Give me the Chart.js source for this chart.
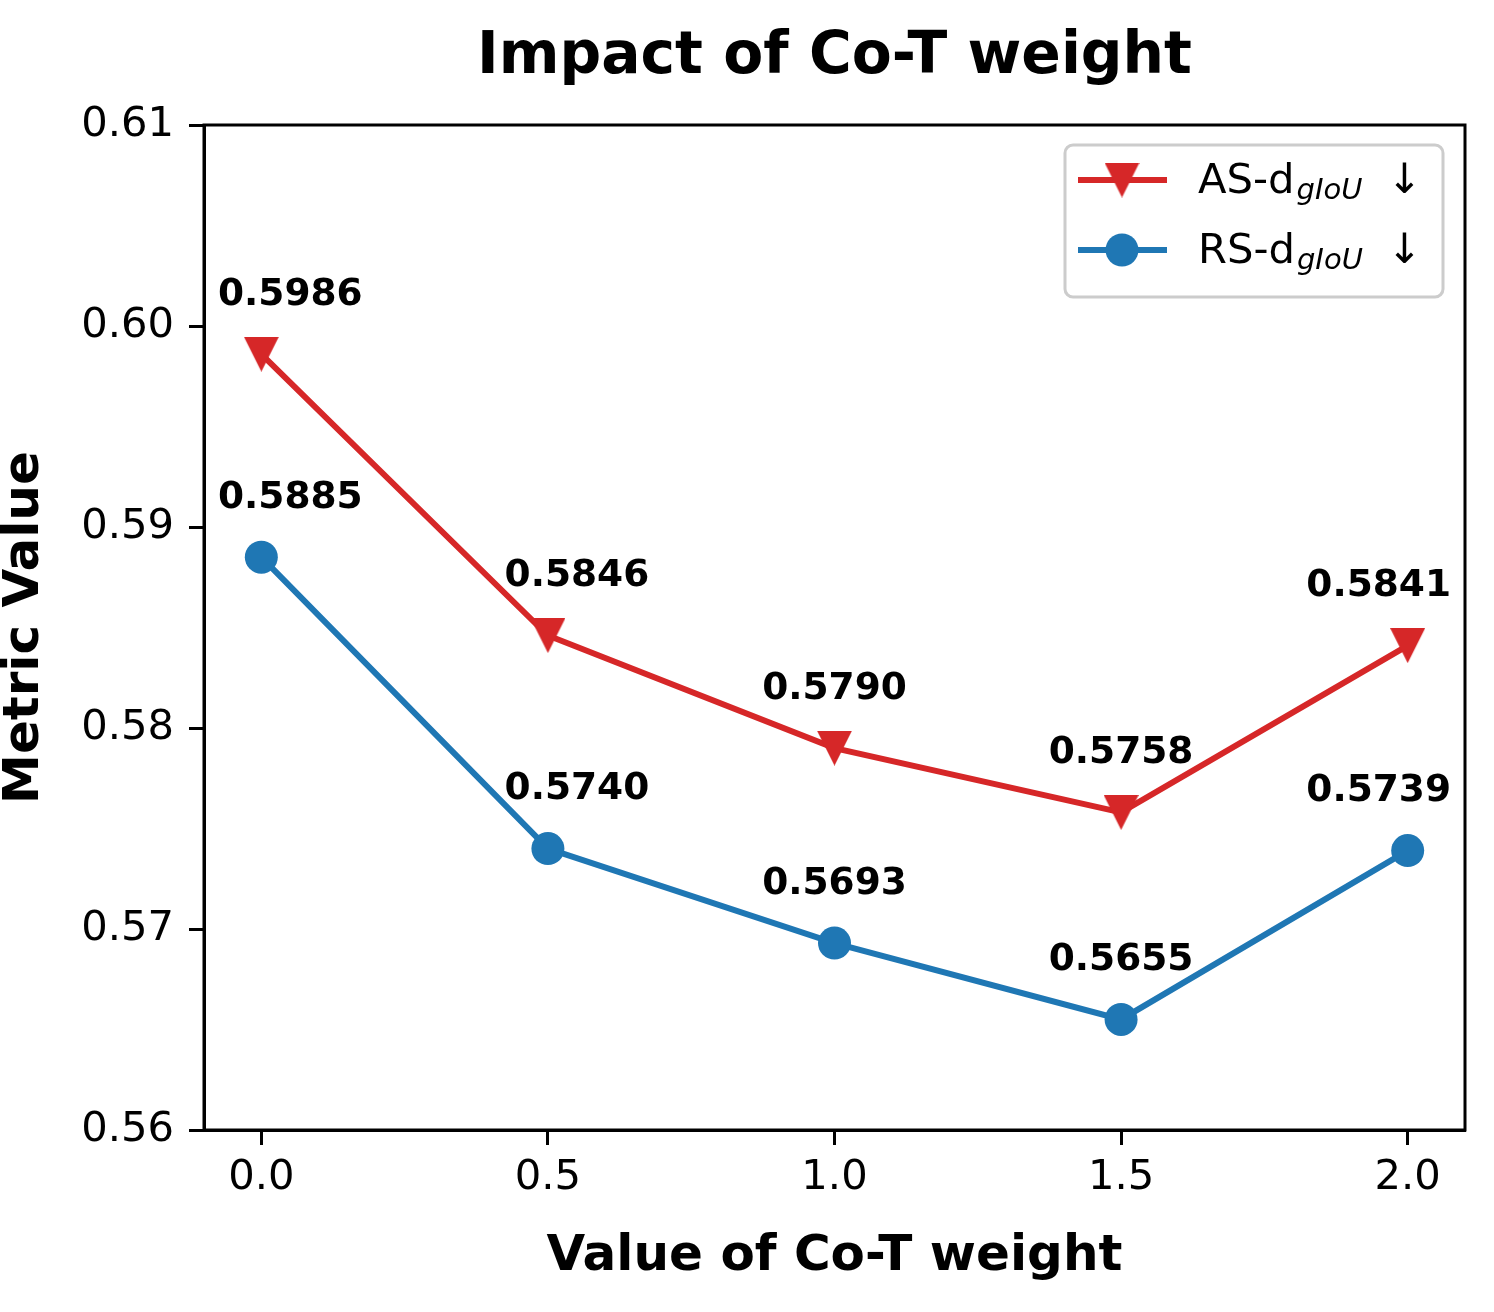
<!DOCTYPE html>
<html>
<head>
<meta charset="utf-8">
<script src="https://cdn.jsdelivr.net/npm/chart.js@4/dist/chart.umd.min.js"></script>
<style>
  body { margin: 0; background: #fff; }
  #wrap { width: 1494px; height: 1312px; }
</style>
</head>
<body>
<div id="wrap"><canvas id="chart" width="1494" height="1312"></canvas></div>
<script>
// --- Data ---
const weights = [0.0, 0.5, 1.0, 1.5, 2.0];
const asValues = [0.5986, 0.5846, 0.5790, 0.5758, 0.5841];
const rsValues = [0.5885, 0.5740, 0.5693, 0.5655, 0.5739];
const xTicks = [0.0, 0.5, 1.0, 1.5, 2.0];
const yTicks = [0.56, 0.57, 0.58, 0.59, 0.60, 0.61];

const RED = "#d62728";
const BLUE = "#1f77b4";
const FONT = "'DejaVu Sans', sans-serif";

const toPoints = (vals) => weights.map((w, i) => ({ x: w, y: vals[i] }));

// downward triangle marker, centred on its bounding box like matplotlib's "v"
function makeTriangle(size, color) {
  const c = document.createElement("canvas");
  c.width = size; c.height = size;
  const g = c.getContext("2d");
  g.fillStyle = color;
  g.beginPath();
  g.moveTo(0, 0);
  g.lineTo(size, 0);
  g.lineTo(size / 2, size);
  g.closePath();
  g.fill();
  return c;
}
const redTriangle = makeTriangle(35, RED);

// --- Plugins ---
const frame = {
  id: "frame",
  afterDraw(chart) {
    const { ctx, chartArea: a } = chart;
    ctx.save();
    ctx.strokeStyle = "#000";
    ctx.lineWidth = 3;
    ctx.strokeRect(a.left, a.top, a.right - a.left, a.bottom - a.top);
    ctx.restore();
  }
};

const titleText = {
  id: "titleText",
  afterDraw(chart) {
    const { ctx, chartArea: a } = chart;
    ctx.save();
    ctx.fillStyle = "#000";
    ctx.font = `bold 58.3px ${FONT}`;
    ctx.textAlign = "center";
    ctx.textBaseline = "alphabetic";
    ctx.fillText("Impact of Co-T weight", (a.left + a.right) / 2, 73);
    ctx.restore();
  }
};

// label offsets (px) relative to each point, as placed in the original
const labelDx = [29, 29, 0, 0, -29];

const valueLabels = {
  id: "valueLabels",
  afterDatasetsDraw(chart) {
    const { ctx } = chart;
    ctx.save();
    ctx.fillStyle = "#000";
    ctx.font = `bold 37.5px ${FONT}`;
    ctx.textAlign = "center";
    ctx.textBaseline = "middle";
    chart.data.datasets.forEach((ds, di) => {
      chart.getDatasetMeta(di).data.forEach((pt, i) => {
        ctx.fillText(ds.data[i].y.toFixed(4), pt.x + labelDx[i], pt.y - 59);
      });
    });
    ctx.restore();
  }
};

const legendBox = {
  id: "legendBox",
  afterDraw(chart) {
    const { ctx } = chart;
    ctx.save();
    ctx.beginPath();
    ctx.roundRect(1065, 145, 378, 152, 8);
    ctx.fillStyle = "rgba(255,255,255,0.8)";
    ctx.fill();
    ctx.strokeStyle = "#cccccc";
    ctx.lineWidth = 3;
    ctx.stroke();

    const rows = [
      { y: 180, color: RED, style: redTriangle, r: 17.5, name: "AS-d" },
      { y: 250, color: BLUE, style: "circle", r: 16.5, name: "RS-d" }
    ];
    rows.forEach(row => {
      ctx.strokeStyle = row.color;
      ctx.lineWidth = 6;
      ctx.beginPath();
      ctx.moveTo(1078, row.y);
      ctx.lineTo(1167, row.y);
      ctx.stroke();
      ctx.fillStyle = row.color;
      Chart.helpers.drawPoint(ctx, { pointStyle: row.style, rotation: 0, radius: row.r, borderWidth: 0 }, 1122, row.y);

      ctx.fillStyle = "#000";
      ctx.textAlign = "left";
      ctx.textBaseline = "alphabetic";
      ctx.font = `41.7px ${FONT}`;
      const base = row.y + 13;
      ctx.fillText(row.name, 1198, base);
      const w = ctx.measureText(row.name).width;
      ctx.font = `italic 29px ${FONT}`;
      ctx.fillText("gIoU", 1198 + w + 2, base + 6);
      ctx.font = `41.7px ${FONT}`;
      ctx.fillText("\u2193", 1387, base);
    });
    ctx.restore();
  }
};

// --- Chart ---
new Chart(document.getElementById("chart"), {
  type: "line",
  data: {
    datasets: [
      {
        label: "AS-dgIoU ↓",
        data: toPoints(asValues),
        borderColor: RED,
        backgroundColor: RED,
        borderWidth: 6,
        pointStyle: redTriangle,
        pointRadius: 17.5,
        pointBorderWidth: 0,
        pointHoverRadius: 17.5
      },
      {
        label: "RS-dgIoU ↓",
        data: toPoints(rsValues),
        borderColor: BLUE,
        backgroundColor: BLUE,
        borderWidth: 6,
        pointStyle: "circle",
        pointRadius: 16.5,
        pointBorderWidth: 0,
        pointHoverRadius: 16.5
      }
    ]
  },
  options: {
    responsive: false,
    animation: false,
    devicePixelRatio: 1,
    layout: { padding: { left: 0, right: 29, top: 125, bottom: 0 } },
    plugins: {
      legend: { display: false },
      title: { display: false },
      tooltip: { enabled: false }
    },
    scales: {
      x: {
        type: "linear",
        min: -0.1,
        max: 2.1,
        afterBuildTicks: (s) => { s.ticks = xTicks.map(v => ({ value: v })); },
        afterFit: (s) => { s.height = 182; },
        ticks: {
          color: "#000",
          font: { family: FONT, size: 41.7 },
          padding: 8,
          maxRotation: 0,
          callback: (v) => Number(v).toFixed(1)
        },
        grid: { drawOnChartArea: false, tickLength: 15, tickWidth: 3, tickColor: "#000" },
        border: { display: true, color: "#000", width: 3 },
        title: {
          display: true,
          text: "Value of Co-T weight",
          color: "#000",
          font: { family: FONT, size: 50, weight: "bold", lineHeight: 1.2 },
          padding: { top: 0, bottom: 25 }
        }
      },
      y: {
        min: 0.56,
        max: 0.61,
        afterBuildTicks: (s) => { s.ticks = yTicks.map(v => ({ value: v })); },
        afterFit: (s) => { s.width = 204; },
        ticks: {
          color: "#000",
          font: { family: FONT, size: 41.7 },
          padding: 15,
          callback: (v) => Number(v).toFixed(2)
        },
        grid: { drawOnChartArea: false, tickLength: 15, tickWidth: 3, tickColor: "#000" },
        border: { display: true, color: "#000", width: 3 },
        title: {
          display: true,
          text: "Metric Value",
          color: "#000",
          font: { family: FONT, size: 50, weight: "bold", lineHeight: 1.0 },
          padding: { top: 0, bottom: 0 }
        }
      }
    }
  },
  plugins: [frame, titleText, valueLabels, legendBox]
});
</script>
</body>
</html>
